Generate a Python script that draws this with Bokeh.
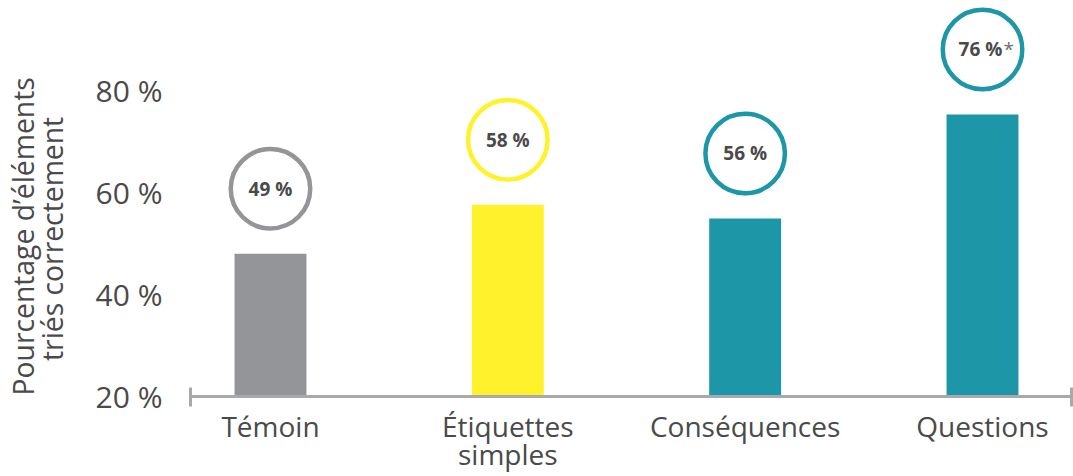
import math
from bokeh.plotting import figure
from bokeh.layouts import row
from bokeh.models import ColumnDataSource, FixedTicker, Range1d
from bokeh.core.properties import value
from bokeh.embed import file_html
from bokeh.resources import INLINE

# ---- data ----
categories = ["Témoin", "Étiquettes\nsimples", "Conséquences", "Questions"]
bar_values = [48.0, 57.6, 54.9, 75.3]
value_labels = ["49 %", "58 %", "56 %", "76 %"]
significant = [False, False, False, True]
colors = ["#939598", "#FFF22D", "#1D96A7", "#1D96A7"]
y_ticks = [20, 40, 60, 80]
y_tick_labels = ["20 %", "40 %", "60 %", "80 %"]
y_title = ["Pourcentage d’éléments", "triés correctement"]

FONT = "Open Sans"
TXT = "#4a4a4a"
AXIS = "#A7A9AC"

W, H = 1073, 476
TITLE_W = 80
x_start, x_end = -0.337, 3.375
y_start, y_end = 20, 97.65
circle_lift = 12.75  # circle centre above bar top, in value units

xs = list(range(len(categories)))
src = ColumnDataSource(dict(
    x=xs,
    top=bar_values,
    cy=[v + circle_lift for v in bar_values],
    label=value_labels,
    color=colors,
    xo=[-2 if s else 0 for s in significant],
))
star_idx = [i for i, s in enumerate(significant) if s]
star_src = ColumnDataSource(dict(
    x=[xs[i] for i in star_idx],
    cy=[bar_values[i] + circle_lift for i in star_idx],
    text=["*" for _ in star_idx],
))

yr = Range1d(y_start, y_end)
p = figure(width=W - TITLE_W, height=H, output_backend="svg", toolbar_location=None,
           x_range=Range1d(x_start, x_end), y_range=yr,
           min_border_left=190 - TITLE_W, min_border_right=2, min_border_top=0,
           min_border_bottom=80)
p.grid.visible = False
p.outline_line_color = None
p.background_fill_color = "white"

p.vbar(x="x", top="top", bottom=y_start, width=0.303, fill_color="color",
       line_color=None, source=src)
p.scatter(x="x", y="cy", size=79.5, marker="circle", fill_color="white",
          line_color="color", line_width=4.5, source=src)
p.text(x="x", y="cy", text="label", source=src, x_offset="xo",
       text_font=value(FONT), text_font_style="bold", text_font_size="19px",
       text_align="center", text_baseline="middle", text_color=TXT)
p.text(x="x", y="cy", text="text", source=star_src, x_offset=21,
       text_font=value(FONT), text_font_size="19px",
       text_align="left", text_baseline="middle", text_color="#6d6e71")

# x axis
xa = p.xaxis[0]
xa.ticker = FixedTicker(ticks=xs, minor_ticks=[x_start + 0.0005, x_end - 0.0005])
xa.major_label_overrides = {i: c for i, c in zip(xs, categories)}
xa.axis_line_color = AXIS
xa.axis_line_width = 3
xa.major_tick_line_color = None
xa.major_tick_in = 0
xa.major_tick_out = 0
xa.minor_tick_line_color = AXIS
xa.minor_tick_line_width = 3
xa.minor_tick_in = 9
xa.minor_tick_out = 10
xa.major_label_standoff = 0
xa.major_label_text_font = FONT
xa.major_label_text_font_size = "28px"
xa.major_label_text_color = TXT
xa.major_label_text_line_height = 0.74

# y axis
ya = p.yaxis[0]
ya.ticker = FixedTicker(ticks=y_ticks, minor_ticks=[])
ya.major_label_overrides = {t: l for t, l in zip(y_ticks, y_tick_labels)}
ya.axis_line_color = None
ya.major_tick_line_color = None
ya.minor_tick_line_color = None
ya.major_tick_in = 0
ya.major_tick_out = 0
ya.major_label_standoff = 28
ya.major_label_text_font = FONT
ya.major_label_text_font_size = "30px"
ya.major_label_text_color = TXT

# y title panel: a narrow figure sharing the y range, holding the two rotated lines
t = figure(width=TITLE_W, height=H, output_backend="svg", toolbar_location=None,
           x_range=Range1d(0, TITLE_W), y_range=yr,
           x_axis_location=None, y_axis_location=None,
           min_border_left=0, min_border_right=0, min_border_top=0, min_border_bottom=0)
t.grid.visible = False
t.outline_line_color = None
t.text(x=[22, 51], y=[51.4, 50.9], text=y_title, angle=math.pi / 2,
       text_font=value(FONT), text_font_size="28.3px", text_color=TXT,
       text_align="center", text_baseline="middle")

layout = row(t, p, spacing=0)
open("out.html", "w").write(file_html(layout, INLINE))
